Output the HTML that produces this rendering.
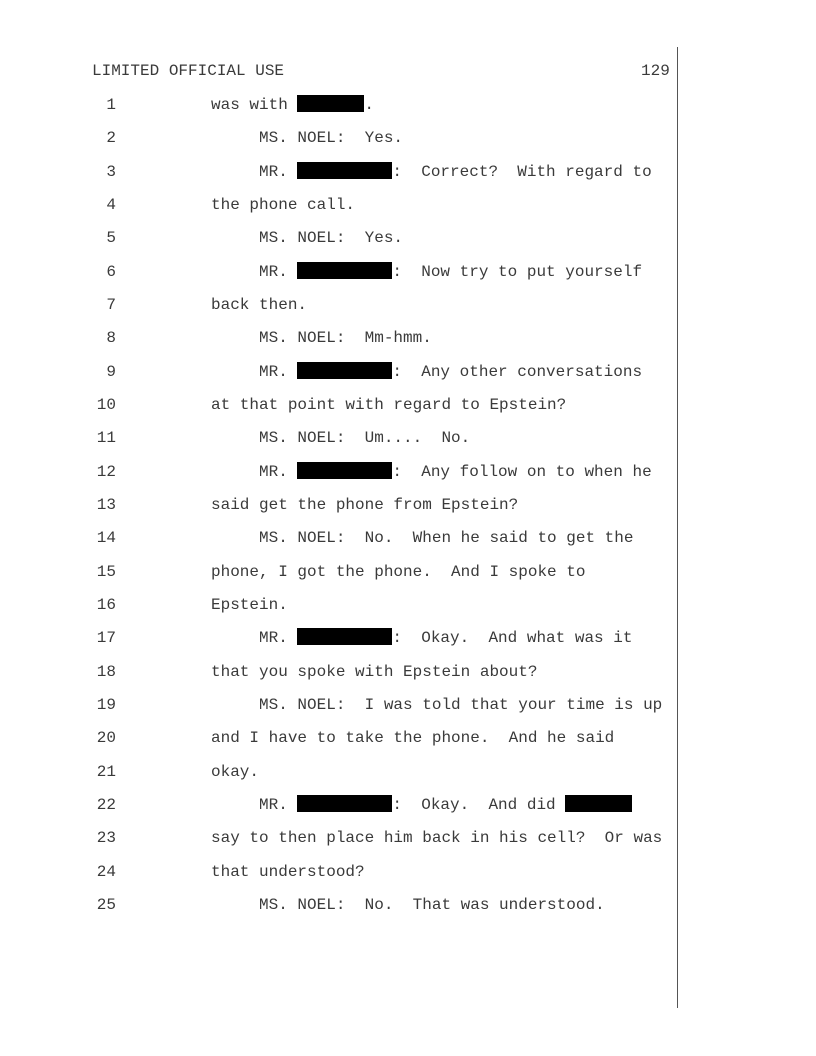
<!DOCTYPE html>
<html><head><style>
body{margin:0;width:816px;height:1056px;background:#fff;position:relative;font-family:"Liberation Mono",monospace;font-size:16px;color:#3a3a3a;}
.l{position:absolute;left:0;height:20px;line-height:20px;white-space:pre;}
.n{position:absolute;width:40px;left:76px;text-align:right;height:20px;line-height:20px;}
.t{position:absolute;left:211px;white-space:pre;height:20px;line-height:20px;}
.r{display:inline-block;background:#000;height:17px;vertical-align:-3px;}
#vl{position:absolute;left:677px;top:47px;width:1px;height:961px;background:#555;}
</style></head><body>
<div id="vl"></div>
<div class="l" style="top:61px;left:92px;">LIMITED OFFICIAL USE</div>
<div class="l" style="top:61px;left:641px;">129</div>
<div style="position:absolute;top:95px;left:0;width:816px">
<div style="position:relative">
<div class="n" style="top:0px">1</div><div class="t" style="top:0px">was with <span class="r" style="width:67px"></span>.</div>
<div class="n" style="top:33.33px">2</div><div class="t" style="top:33.33px">     MS. NOEL:  Yes.</div>
<div class="n" style="top:66.67px">3</div><div class="t" style="top:66.67px">     MR. <span class="r" style="width:95px"></span>:  Correct?  With regard to</div>
<div class="n" style="top:100px">4</div><div class="t" style="top:100px">the phone call.</div>
<div class="n" style="top:133.33px">5</div><div class="t" style="top:133.33px">     MS. NOEL:  Yes.</div>
<div class="n" style="top:166.67px">6</div><div class="t" style="top:166.67px">     MR. <span class="r" style="width:95px"></span>:  Now try to put yourself</div>
<div class="n" style="top:200px">7</div><div class="t" style="top:200px">back then.</div>
<div class="n" style="top:233.33px">8</div><div class="t" style="top:233.33px">     MS. NOEL:  Mm-hmm.</div>
<div class="n" style="top:266.67px">9</div><div class="t" style="top:266.67px">     MR. <span class="r" style="width:95px"></span>:  Any other conversations</div>
<div class="n" style="top:300px">10</div><div class="t" style="top:300px">at that point with regard to Epstein?</div>
<div class="n" style="top:333.33px">11</div><div class="t" style="top:333.33px">     MS. NOEL:  Um....  No.</div>
<div class="n" style="top:366.67px">12</div><div class="t" style="top:366.67px">     MR. <span class="r" style="width:95px"></span>:  Any follow on to when he</div>
<div class="n" style="top:400px">13</div><div class="t" style="top:400px">said get the phone from Epstein?</div>
<div class="n" style="top:433.33px">14</div><div class="t" style="top:433.33px">     MS. NOEL:  No.  When he said to get the</div>
<div class="n" style="top:466.67px">15</div><div class="t" style="top:466.67px">phone, I got the phone.  And I spoke to</div>
<div class="n" style="top:500px">16</div><div class="t" style="top:500px">Epstein.</div>
<div class="n" style="top:533.33px">17</div><div class="t" style="top:533.33px">     MR. <span class="r" style="width:95px"></span>:  Okay.  And what was it</div>
<div class="n" style="top:566.67px">18</div><div class="t" style="top:566.67px">that you spoke with Epstein about?</div>
<div class="n" style="top:600px">19</div><div class="t" style="top:600px">     MS. NOEL:  I was told that your time is up</div>
<div class="n" style="top:633.33px">20</div><div class="t" style="top:633.33px">and I have to take the phone.  And he said</div>
<div class="n" style="top:666.67px">21</div><div class="t" style="top:666.67px">okay.</div>
<div class="n" style="top:700px">22</div><div class="t" style="top:700px">     MR. <span class="r" style="width:95px"></span>:  Okay.  And did <span class="r" style="width:67px"></span></div>
<div class="n" style="top:733.33px">23</div><div class="t" style="top:733.33px">say to then place him back in his cell?  Or was</div>
<div class="n" style="top:766.67px">24</div><div class="t" style="top:766.67px">that understood?</div>
<div class="n" style="top:800px">25</div><div class="t" style="top:800px">     MS. NOEL:  No.  That was understood.</div>
</div></div>
</body></html>
